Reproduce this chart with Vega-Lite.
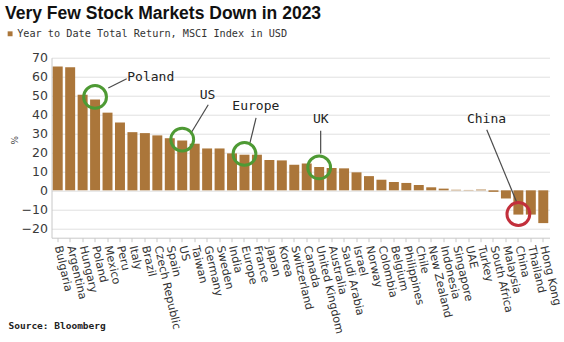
{
  "$schema": "https://vega.github.io/schema/vega-lite/v6.json",
  "width": 498,
  "height": 180,
  "autosize": {"type": "none"},
  "padding": {"left": 51.5, "top": 57.7, "right": 14.5, "bottom": 104.3},
  "background": "white",
  "title": {
    "text": "Very Few Stock Markets Down in 2023",
    "anchor": "start",
    "frame": "group",
    "font": "Liberation Sans",
    "fontSize": 17.5,
    "fontWeight": "bold",
    "color": "#111111",
    "dx": -46.5,
    "offset": 20,
    "dy": 14
  },
  "datasets": {
    "bars": [
      {"country": "Bulgaria", "value": 65.3, "series": "Year to Date Total Return, MSCI Index in USD"},
      {"country": "Argentina", "value": 65.0, "series": "Year to Date Total Return, MSCI Index in USD"},
      {"country": "Hungary", "value": 50.4, "series": "Year to Date Total Return, MSCI Index in USD"},
      {"country": "Poland", "value": 48.0, "series": "Year to Date Total Return, MSCI Index in USD"},
      {"country": "Mexico", "value": 41.0, "series": "Year to Date Total Return, MSCI Index in USD"},
      {"country": "Peru", "value": 35.8, "series": "Year to Date Total Return, MSCI Index in USD"},
      {"country": "Italy", "value": 30.7, "series": "Year to Date Total Return, MSCI Index in USD"},
      {"country": "Brazil", "value": 30.2, "series": "Year to Date Total Return, MSCI Index in USD"},
      {"country": "Czech Republic", "value": 29.0, "series": "Year to Date Total Return, MSCI Index in USD"},
      {"country": "Spain", "value": 27.5, "series": "Year to Date Total Return, MSCI Index in USD"},
      {"country": "US", "value": 26.3, "series": "Year to Date Total Return, MSCI Index in USD"},
      {"country": "Taiwan", "value": 24.6, "series": "Year to Date Total Return, MSCI Index in USD"},
      {"country": "Germany", "value": 22.1, "series": "Year to Date Total Return, MSCI Index in USD"},
      {"country": "Sweden", "value": 22.1, "series": "Year to Date Total Return, MSCI Index in USD"},
      {"country": "India", "value": 19.5, "series": "Year to Date Total Return, MSCI Index in USD"},
      {"country": "Europe", "value": 18.8, "series": "Year to Date Total Return, MSCI Index in USD"},
      {"country": "France", "value": 18.8, "series": "Year to Date Total Return, MSCI Index in USD"},
      {"country": "Japan", "value": 16.0, "series": "Year to Date Total Return, MSCI Index in USD"},
      {"country": "Korea", "value": 15.8, "series": "Year to Date Total Return, MSCI Index in USD"},
      {"country": "Switzerland", "value": 13.5, "series": "Year to Date Total Return, MSCI Index in USD"},
      {"country": "Canada", "value": 14.2, "series": "Year to Date Total Return, MSCI Index in USD"},
      {"country": "United Kingdom", "value": 12.3, "series": "Year to Date Total Return, MSCI Index in USD"},
      {"country": "Australia", "value": 11.8, "series": "Year to Date Total Return, MSCI Index in USD"},
      {"country": "Saudi Arabia", "value": 11.6, "series": "Year to Date Total Return, MSCI Index in USD"},
      {"country": "Israel", "value": 9.5, "series": "Year to Date Total Return, MSCI Index in USD"},
      {"country": "Norway", "value": 7.5, "series": "Year to Date Total Return, MSCI Index in USD"},
      {"country": "Colombia", "value": 5.6, "series": "Year to Date Total Return, MSCI Index in USD"},
      {"country": "Belgium", "value": 4.4, "series": "Year to Date Total Return, MSCI Index in USD"},
      {"country": "Philippines", "value": 3.9, "series": "Year to Date Total Return, MSCI Index in USD"},
      {"country": "Chile", "value": 2.8, "series": "Year to Date Total Return, MSCI Index in USD"},
      {"country": "New Zealand", "value": 1.6, "series": "Year to Date Total Return, MSCI Index in USD"},
      {"country": "Indonesia", "value": 0.9, "series": "Year to Date Total Return, MSCI Index in USD"},
      {"country": "Singapore", "value": 0.3, "series": "Year to Date Total Return, MSCI Index in USD"},
      {"country": "UAE", "value": 0.2, "series": "Year to Date Total Return, MSCI Index in USD"},
      {"country": "Turkey", "value": 0.4, "series": "Year to Date Total Return, MSCI Index in USD"},
      {"country": "South Africa", "value": -0.8, "series": "Year to Date Total Return, MSCI Index in USD"},
      {"country": "Malaysia", "value": -4.3, "series": "Year to Date Total Return, MSCI Index in USD"},
      {"country": "China", "value": -12.8, "series": "Year to Date Total Return, MSCI Index in USD"},
      {"country": "Thailand", "value": -12.8, "series": "Year to Date Total Return, MSCI Index in USD"},
      {"country": "Hong Kong", "value": -17.3, "series": "Year to Date Total Return, MSCI Index in USD"}
    ],
    "notes": [
      {"label": "Poland", "lq": 7.97, "lv": 59.6, "q1": 4.56, "v1": 54.0, "q2": 6.04, "v2": 58.9, "cq": 3.5, "cv": 49.3, "tone": "green"},
      {"label": "US", "lq": 12.53, "lv": 50.5, "q1": 11.26, "v1": 30.8, "q2": 12.59, "v2": 45.2, "cq": 10.5, "cv": 26.8, "tone": "green"},
      {"label": "Europe", "lq": 16.41, "lv": 44.3, "q1": 16.43, "v1": 38.2, "q2": 15.94, "v2": 25.0, "cq": 15.5, "cv": 19.2, "tone": "green"},
      {"label": "UK", "lq": 21.63, "lv": 37.7, "q1": 21.62, "v1": 31.5, "q2": 21.62, "v2": 19.4, "cq": 21.5, "cv": 12.1, "tone": "green"},
      {"label": "China", "lq": 34.94, "lv": 37.8, "q1": 34.96, "v1": 32.0, "q2": 37.41, "v2": -7.0, "cq": 37.5, "cv": -12.5, "tone": "red"}
    ]
  },
  "layer": [
    {
      "data": {"name": "bars"},
      "mark": {"type": "bar"},
      "encoding": {
        "x": {
          "field": "country",
          "type": "nominal",
          "sort": null,
          "scale": {"paddingInner": 0.2, "paddingOuter": 0.1},
          "axis": {
            "title": "Source: Bloomberg",
            "titleFont": "DejaVu Sans Mono",
            "titleFontSize": 9.5,
            "titleFontWeight": "bold",
            "titleColor": "#222222",
            "titleAlign": "left",
            "titleBaseline": "middle",
            "titleAnchor": "start",
            "titleX": -43.5,
            "titleY": 87.3,
            "labelAngle": 77,
            "labelFont": "DejaVu Sans",
            "labelFontSize": 11.2,
            "labelColor": "#333333",
            "labelPadding": 4,
            "labelOverlap": false,
            "labelLimit": 200,
            "ticks": true,
            "tickSize": 4,
            "tickColor": "#c8c8c8",
            "domainColor": "#c8c8c8",
            "grid": false
          }
        },
        "y": {
          "field": "value",
          "type": "quantitative",
          "scale": {"domain": [-25, 70], "nice": false},
          "axis": {
            "title": "%",
            "titleFont": "DejaVu Sans",
            "titleFontSize": 9,
            "titleFontWeight": "normal",
            "titleColor": "#444444",
            "titleX": -43,
            "titleY": 82,
            "titleAngle": 90,
            "values": [-20, -10, 0, 10, 20, 30, 40, 50, 60, 70],
            "tickCount": 10,
            "labelOverlap": false,
            "labelFont": "DejaVu Sans",
            "labelFontSize": 12.5,
            "labelColor": "#3a3a3a",
            "labelPadding": 4,
            "ticks": false,
            "grid": true,
            "gridColor": "#e0e0e0",
            "domainColor": "#c8c8c8"
          }
        },
        "color": {
          "field": "series",
          "type": "nominal",
          "scale": {"range": ["#ab763a"]},
          "legend": {
            "title": null,
            "orient": "none",
            "legendX": -46.5,
            "legendY": -29,
            "padding": 0,
            "symbolType": "square",
            "symbolSize": 24,
            "labelOffset": 2,
            "labelFont": "DejaVu Sans Mono",
            "labelFontSize": 10.2,
            "labelColor": "#333333",
            "labelLimit": 400
          }
        }
      }
    },
    {
      "data": {"name": "notes"},
      "layer": [
        {
          "mark": {"type": "rule", "color": "#4a4a4a", "strokeWidth": 1.2},
          "encoding": {
            "x": {"field": "q1", "type": "quantitative", "scale": {"domain": [0, 40], "nice": false, "zero": false}, "axis": null},
            "x2": {"field": "q2"},
            "y": {"field": "v1", "type": "quantitative"},
            "y2": {"field": "v2"}
          }
        },
        {
          "mark": {"type": "point", "shape": "circle", "filled": false, "size": 520, "strokeWidth": 3, "opacity": 1},
          "encoding": {
            "x": {"field": "cq", "type": "quantitative"},
            "y": {"field": "cv", "type": "quantitative"},
            "stroke": {"field": "tone", "type": "nominal", "scale": {"domain": ["green", "red"], "range": ["#4e9a34", "#c22f3b"]}, "legend": null}
          }
        },
        {
          "mark": {"type": "text", "font": "DejaVu Sans Mono", "fontSize": 13, "color": "#222222", "align": "center", "baseline": "middle"},
          "encoding": {
            "x": {"field": "lq", "type": "quantitative"},
            "y": {"field": "lv", "type": "quantitative"},
            "text": {"field": "label"}
          }
        }
      ]
    }
  ],
  "resolve": {"scale": {"x": "independent"}},
  "config": {
    "view": {"stroke": null},
    "axisY": {"labelOverlap": false, "values": [-20, -10, 0, 10, 20, 30, 40, 50, 60, 70]}
  }
}
